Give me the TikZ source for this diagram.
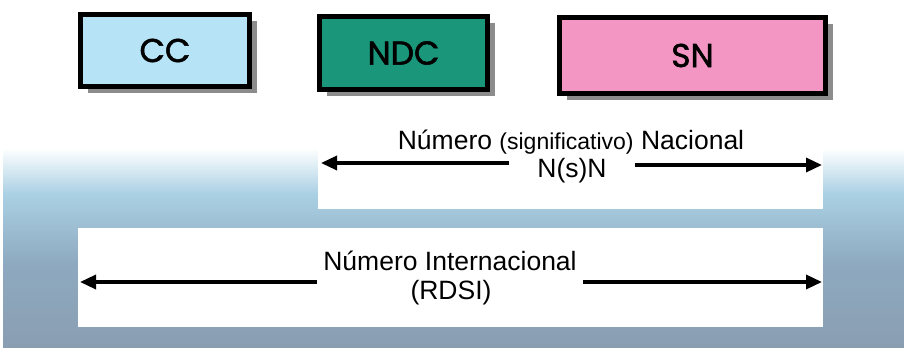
\documentclass[tikz,border=0pt]{standalone}
\usepackage{fontspec}
\setmainfont{Liberation Sans}
\newfontfamily\boxfont{Poppins}[FakeBold=1.6]
\usetikzlibrary{arrows.meta,shadows}
\definecolor{ccblue}{RGB}{182,228,246}
\definecolor{ndcgreen}{RGB}{26,150,122}
\definecolor{snpink}{RGB}{244,150,196}
\definecolor{bgcyan}{RGB}{170,208,228}
\definecolor{bgsteel}{RGB}{142,170,192}
\definecolor{bggrey}{RGB}{138,158,178}
\pgfdeclareverticalshading{backdrop}{100bp}{color(0bp)=(bggrey); color(25bp)=(bggrey); color(45bp)=(bgsteel); color(61bp)=(bgcyan); color(72bp)=(white); color(100bp)=(white)}
\tikzstyle{field} = [draw=black, line width=5pt, drop shadow={shadow xshift=7pt, shadow yshift=-7pt, fill=black!45, opacity=1}, font=\boxfont\fontsize{33}{33}\selectfont]
\tikzstyle{numtext} = [inner sep=0pt, font=\fontsize{26.5}{26.5}\selectfont]
\tikzstyle{spanline} = [line width=3.4pt, -{Triangle[length=16pt,width=14pt]}]
\newcommand{\sig}[1]{{\fontsize{23}{23}\selectfont #1}}

\begin{document}
\begin{tikzpicture}[x=1pt, y=-1pt]
	\useasboundingbox (0,0) rectangle (904,350);
	\shade[shading=backdrop] (3,135) rectangle (904,347);
	\fill[white] (318,120) rectangle (823,209);
	\fill[white] (78,228) rectangle (823,327);
	\node [field, fill=ccblue, minimum width=169pt, minimum height=72pt] (cc) at (165,50.5) {CC};
	\node [field, fill=ndcgreen, minimum width=168pt, minimum height=73pt] (ndc) at (403.5,53) {NDC};
	\node [field, fill=snpink, minimum width=266pt, minimum height=76pt] (sn) at (692.5,55.5) {SN};
	\node [numtext, anchor=base] (nac) at (571,149) {Número \sig{(significativo)} Nacional};
	\node [numtext, anchor=base, inner xsep=28pt] (nsn) at (572,177) {N(s)N};
	\node [numtext, anchor=base, inner xsep=6pt] (intl) at (450,270) {Número Internacional};
	\node [numtext, anchor=base] (rdsi) at (451,299) {(RDSI)};
	\coordinate (nacL) at (321,163);
	\coordinate (nacR) at (822,165);
	\coordinate (intlL) at (80,282);
	\coordinate (intlR) at (822,282);
	\draw [spanline] (nsn.west |- nacL) -- (nacL);
	\draw [spanline] (nsn.east |- nacR) -- (nacR);
	\draw [spanline] (intl.west |- intlL) -- (intlL);
	\draw [spanline] (intl.east |- intlR) -- (intlR);
\end{tikzpicture}
\end{document}
